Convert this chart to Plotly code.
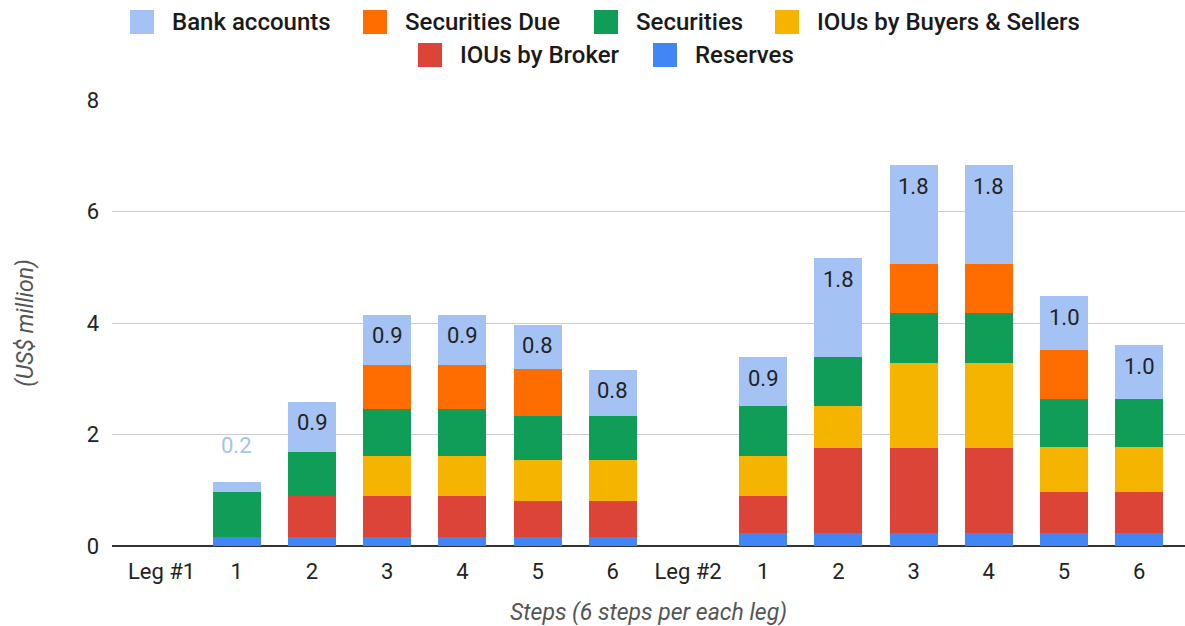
import plotly.graph_objects as go

# Categories: two legs of six steps each, with a header slot before each leg
tick_labels = ["Leg #1", "1", "2", "3", "4", "5", "6",
               "Leg #2", "1", "2", "3", "4", "5", "6"]

# Balances (US$ million) per step, bottom of the stack first
reserves = [None, 0.16, 0.16, 0.16, 0.16, 0.16, 0.16,
            None, 0.23, 0.23, 0.23, 0.23, 0.23, 0.23]
ious_broker = [None, 0, 0.73, 0.73, 0.73, 0.655, 0.655,
               None, 0.66, 1.53, 1.53, 1.53, 0.74, 0.74]
ious_buyers_sellers = [None, 0, 0, 0.73, 0.73, 0.73, 0.73,
                       None, 0.73, 0.755, 1.52, 1.52, 0.80, 0.80]
securities = [None, 0.80, 0.80, 0.83, 0.83, 0.79, 0.79,
              None, 0.90, 0.876, 0.90, 0.90, 0.87, 0.87]
securities_due = [None, 0, 0, 0.80, 0.80, 0.84, 0,
                  None, 0, 0, 0.88, 0.88, 0.88, 0]
bank_accounts = [None, 0.18, 0.90, 0.90, 0.90, 0.79, 0.83,
                 None, 0.87, 1.77, 1.77, 1.77, 0.96, 0.96]

series = [
    ("Reserves", reserves, "#4285f4"),
    ("IOUs by Broker", ious_broker, "#db4437"),
    ("IOUs by Buyers & Sellers", ious_buyers_sellers, "#f4b400"),
    ("Securities", securities, "#0f9d58"),
    ("Securities Due", securities_due, "#ff6d01"),
    ("Bank accounts", bank_accounts, "#a4c2f4"),
]

FONT = "Roboto, Arial, sans-serif"
W, H = 1185, 626
ML, MR, MT, MB = 112, 0, 100, 80
PW, PH = W - ML - MR, H - MT - MB
STEP_PX = 75.2          # horizontal distance between categories
FIRST_PX = 161.6        # centre of the first category
x_lo = -(FIRST_PX - ML) / STEP_PX
x_hi = x_lo + PW / STEP_PX

xs = list(range(len(tick_labels)))
small_cut = 0.5  # bank segments thinner than this get their label above the bar

fig = go.Figure()
for name, vals, color in series:
    is_top = name == "Bank accounts"
    fig.add_trace(go.Bar(
        x=xs, y=vals, name=name, width=0.64,
        marker=dict(color=color, line=dict(width=0),
                    cornerradius=3 if is_top else 0),
        showlegend=False,
        hoverinfo="skip",
    ))

# Value labels for the top (bank accounts) segment of each stack
for i, v in enumerate(bank_accounts):
    if v is None:
        continue
    total = sum((s[1][i] or 0) for s in series)
    inside = v >= small_cut
    fig.add_annotation(
        x=xs[i], y=total, xref="x", yref="y",
        text=f"{v:.1f}", showarrow=False, yanchor="middle",
        yshift=-21 if inside else 37,
        font=dict(family=FONT, size=22,
                  color="#222222" if inside else "#a4c2f4"),
    )

# Legend drawn as swatches + labels in two centred rows
def px_x(px):
    return (px - ML) / PW

def px_y(py):
    return (H - MB - py) / PH

legend_rows = [
    (22, [("Bank accounts", 130), ("Securities Due", 363),
          ("Securities", 594), ("IOUs by Buyers & Sellers", 775)]),
    (55, [("IOUs by Broker", 418), ("Reserves", 653)]),
]
colors = {name: color for name, _, color in series}
SW = 24
for cy, items in legend_rows:
    for name, sx in items:
        fig.add_shape(
            type="rect", xref="paper", yref="paper",
            x0=px_x(sx), x1=px_x(sx + SW),
            y0=px_y(cy + SW / 2), y1=px_y(cy - SW / 2),
            fillcolor=colors[name], line=dict(width=0), layer="above",
        )
        fig.add_annotation(
            x=px_x(sx + 40), y=px_y(cy), xref="paper", yref="paper",
            text=name, showarrow=False, xanchor="left", yanchor="middle",
            font=dict(family=FONT, size=24, color="#1a1a1a", weight=500),
        )

fig.update_layout(
    width=W, height=H,
    margin=dict(l=ML, r=MR, t=MT, b=MB, pad=0),
    barmode="stack",
    bargap=0,
    paper_bgcolor="white",
    plot_bgcolor="white",
    showlegend=False,
    font=dict(family=FONT, size=22, color="#222222"),
    xaxis=dict(
        range=[x_lo, x_hi],
        tickmode="array", tickvals=xs, ticktext=tick_labels,
        showgrid=False, showline=False, zeroline=False,
        ticks="", ticklabelstandoff=10,
        tickfont=dict(family=FONT, size=22, color="#222222"),
        title=dict(text="Steps (6 steps per each leg)", standoff=21,
                   font=dict(family=FONT, size=23, color="#555555",
                             style="italic")),
        fixedrange=True,
    ),
    yaxis=dict(
        range=[0, 8], tickvals=[0, 2, 4, 6, 8],
        showgrid=True, gridcolor="#cccccc", gridwidth=1,
        zeroline=True, zerolinecolor="#333333", zerolinewidth=2,
        showline=False, ticks="", ticklabelstandoff=12,
        tickfont=dict(family=FONT, size=22, color="#222222"),
        title=dict(text="(US$ million)", standoff=46,
                   font=dict(family=FONT, size=23, color="#555555",
                             style="italic")),
        fixedrange=True,
    ),
)

fig.write_html("out.html")
